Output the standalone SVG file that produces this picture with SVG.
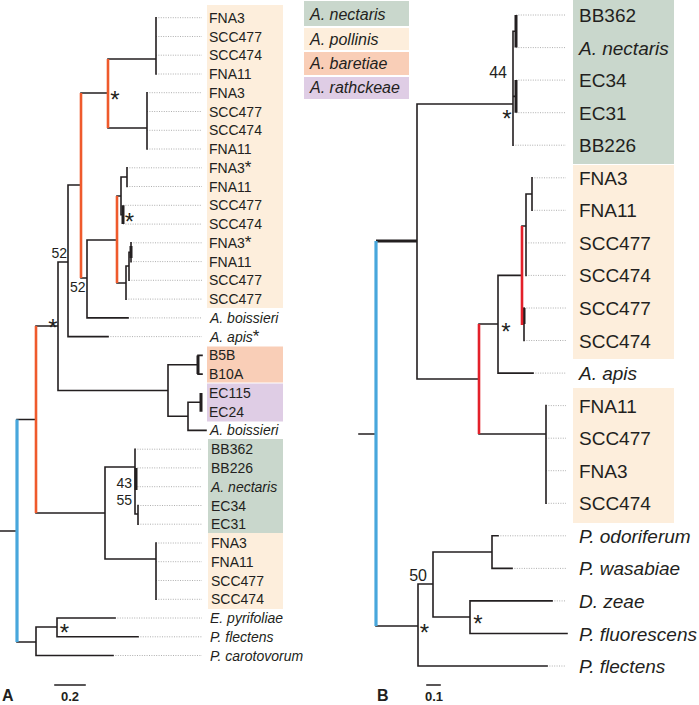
<svg xmlns="http://www.w3.org/2000/svg" width="699" height="705" viewBox="0 0 699 705">
<style>
text{font-family:"Liberation Sans",Arial,sans-serif;fill:#231f20}
.l{font-size:14px}
.r{font-size:19px}
.i{font-style:italic}
.lg{font-size:16px;font-style:italic}
.st{font-size:24px;text-anchor:middle}
.sa{font-size:17px;font-style:normal}
.bs{font-size:14px}
.bs2{font-size:16px}
.br{fill:none;stroke:#231f20;stroke-width:1.6;stroke-linecap:square}
.thk{fill:none;stroke:#231f20;stroke-width:3}
.or{fill:none;stroke:#ef5a2c;stroke-width:2.6}
.rd{fill:none;stroke:#e3202a;stroke-width:2.6}
.bl{fill:none;stroke:#48a7dc;stroke-width:3.2}
.dot{fill:none;stroke:#9a9a9a;stroke-width:0.8;stroke-dasharray:1 1.4}
.pol{fill:#fdeedc}
.nec{fill:#c9d7cc}
.bar{fill:#f9ceb7}
.rat{fill:#dfcde5}
</style>

<g id="legend">
<rect class="nec" x="304" y="1" width="105" height="25"/>
<rect class="pol" x="304" y="28" width="105" height="22"/>
<rect class="bar" x="304" y="52" width="105" height="23"/>
<rect class="rat" x="304" y="77" width="105" height="22"/>
<text class="lg" x="310" y="20">A. nectaris</text>
<text class="lg" x="310" y="45">A. pollinis</text>
<text class="lg" x="310" y="69">A. baretiae</text>
<text class="lg" x="310" y="93">A. rathckeae</text>
</g>

<g id="boxes-A">
<rect class="pol" x="207" y="5" width="76" height="303"/>
<rect class="bar" x="207" y="346.5" width="76" height="36"/>
<rect class="rat" x="207" y="383.5" width="76" height="38"/>
<rect class="nec" x="208" y="439" width="75" height="94"/>
<rect class="pol" x="208" y="533" width="75" height="76"/>
</g>

<g id="boxes-B">
<rect class="nec" x="573" y="0" width="101" height="164"/>
<rect class="pol" x="573" y="165" width="101" height="194"/>
<rect class="pol" x="573" y="388" width="101" height="135"/>
</g>

<g id="connectors">
<path class="dot" d="M156,17.7H202M156,36.5H202M156,55.2H202M156,74H202M147,92.7H202M147,111.5H202M147,130.3H202M147,149H202M127,167.8H202M127,186.5H202M123,205.3H202M123,224.1H202M131,242.8H202M131,261.6H202M129,280.3H202M126,299.1H202M128,317.9H202M108,336.6H202M135,449.2H202M135,467.9H202M135,486.7H202M138,505.5H202M138,524.2H202M156,543H202M156,561.7H202M156,580.5H202M156,599.3H202M115,618H202M138,636.8H202M113,655.5H202"/>
<path class="dot" d="M516,15H566M516,47.6H566M516,80.1H566M516,112.7H566M513,145.2H566M532,177.8H566M532,210.3H566M526,242.9H566M526,275.4H566M524,308H566M524,340.5H566M533,373.1H566M546,405.6H566M546,438.2H566M546,470.7H566M546,503.3H566M498,535.8H566M512,568.4H566M552,600.9H566M547,666H566"/>

<path class="br" d="M156,17.7V74M108,59H156M108,128H147M147,92.7V149M81,93H108M68,185H81M68,185V336.6M68,336.6H108M58,262H68M58,262V390.5M36,326H58M81,278H87M87,240V317.9M87,317.9H128M87,240H117M117,196H121M121,177V214.7M121,177H127M127,167.8V186.5M121,214.7H123M117,283H126M126,266V299.1M126,266H129M129,252.2V280.3M129,252.2H131M131,242.8V261.6M58,390.5H168M168,364.7V416.3M168,364.7H198M198,355.4H202M198,374.1H202M168,416.3H188M188,402.3V430.4M188,402.3H201M188,430.4H206M36,513H105M105,467V559M105,467H135M135,449.2V514M135,514H138M138,505.5V524.2M105,559H156M156,543V599.3M17,642H36M36,627V655.5M36,627H57M57,618V636.8M57,618H115M57,636.8H138M36,655.5H113M17,419.5H36M0,531H17"/>
<path class="thk" d="M123,205.3V224.1M131,246V258M198,355.4V374.1M201,392.9V411.7M136,467.9V490"/>
<path class="or" d="M108,59V128M81,93V278M117,196V283M36,326V513"/>
<path class="bl" d="M17,419.5V642"/>

<path class="br" d="M359,434H376M417,104V379M417,104H513M513,31.3V145.2M513,31.3H516M513,96.4H516M417,379H479M479,324H498M498,275.4V373.1M498,373.1H533M498,275.4H522M522,226H526M526,194V275.4M526,194H532M532,177.8V210.3M522,324.3H524M524,308V340.5M479,434H546M546,405.6V503.3M376,626H418M418,584V666M418,584H433M433,552V617M433,552H492M492,535.8V568.4M492,535.8H498M492,568.4H512M433,617H470M470,600.9V633.5M470,600.9H552M470,633.5H567M418,666H547"/>
<path class="thk" d="M376,241H417M516,15V47.6M516,80.1V112.7M524,308V324"/>
<path class="rd" d="M522,226V325M479,324V434"/>
<path class="bl" d="M376,241V626"/>

<path class="br" d="M55,685H85M427,685H440"/>
</g>

<g id="labels-A">
<text class="l" x="209" y="22.7">FNA3</text>
<text class="l" x="209" y="41.5">SCC477</text>
<text class="l" x="209" y="60.2">SCC474</text>
<text class="l" x="209" y="79">FNA11</text>
<text class="l" x="209" y="97.7">FNA3</text>
<text class="l" x="209" y="116.5">SCC477</text>
<text class="l" x="209" y="135.3">SCC474</text>
<text class="l" x="209" y="154">FNA11</text>
<text class="l" x="209" y="172.8">FNA3<tspan class="sa">*</tspan></text>
<text class="l" x="209" y="191.5">FNA11</text>
<text class="l" x="209" y="210.3">SCC477</text>
<text class="l" x="209" y="229.1">SCC474</text>
<text class="l" x="209" y="247.8">FNA3<tspan class="sa">*</tspan></text>
<text class="l" x="209" y="266.6">FNA11</text>
<text class="l" x="209" y="285.3">SCC477</text>
<text class="l" x="209" y="304.1">SCC477</text>
<text class="l i" x="210" y="322.9">A. boissieri</text>
<text class="l" x="210" y="341.6"><tspan font-style="italic">A. apis</tspan><tspan class="sa">*</tspan></text>
<text class="l" x="209" y="360.4">B5B</text>
<text class="l" x="209" y="379.1">B10A</text>
<text class="l" x="209" y="397.9">EC115</text>
<text class="l" x="209" y="416.7">EC24</text>
<text class="l i" x="210" y="435.4">A. boissieri</text>
<text class="l" x="211" y="454.2">BB362</text>
<text class="l" x="211" y="472.9">BB226</text>
<text class="l i" x="211" y="491.7">A. nectaris</text>
<text class="l" x="211" y="510.5">EC34</text>
<text class="l" x="211" y="529.2">EC31</text>
<text class="l" x="211" y="548">FNA3</text>
<text class="l" x="211" y="566.7">FNA11</text>
<text class="l" x="211" y="585.5">SCC477</text>
<text class="l" x="211" y="604.3">SCC474</text>
<text class="l i" x="210" y="623">E. pyrifoliae</text>
<text class="l i" x="210" y="641.8">P. flectens</text>
<text class="l i" x="210" y="660.5">P. carotovorum</text>
</g>

<g id="labels-B">
<text class="r" x="579" y="22">BB362</text>
<text class="r i" x="579" y="54.6">A. nectaris</text>
<text class="r" x="579" y="87.1">EC34</text>
<text class="r" x="579" y="119.7">EC31</text>
<text class="r" x="579" y="152.2">BB226</text>
<text class="r" x="579" y="184.8">FNA3</text>
<text class="r" x="579" y="217.3">FNA11</text>
<text class="r" x="579" y="249.9">SCC477</text>
<text class="r" x="579" y="282.4">SCC474</text>
<text class="r" x="579" y="315">SCC477</text>
<text class="r" x="579" y="347.5">SCC474</text>
<text class="r i" x="579" y="380.1">A. apis</text>
<text class="r" x="579" y="412.6">FNA11</text>
<text class="r" x="579" y="445.2">SCC477</text>
<text class="r" x="579" y="477.7">FNA3</text>
<text class="r" x="579" y="510.3">SCC474</text>
<text class="r i" x="579" y="542.8">P. odoriferum</text>
<text class="r i" x="579" y="575.4">P. wasabiae</text>
<text class="r i" x="579" y="607.9">D. zeae</text>
<text class="r i" x="579" y="640.5">P. fluorescens</text>
<text class="r i" x="579" y="673">P. flectens</text>
</g>

<g id="support">
<text class="st" x="115" y="107.7">*</text>
<text class="st" x="53" y="335.7">*</text>
<text class="st" x="129.5" y="229.7">*</text>
<text class="st" x="64.5" y="640.7">*</text>
<text class="st" x="507" y="126.7">*</text>
<text class="st" x="506" y="339.7">*</text>
<text class="st" x="478" y="631.7">*</text>
<text class="st" x="424.5" y="640.7">*</text>
<text class="bs" x="67" y="258" text-anchor="end">52</text>
<text class="bs" x="70" y="292">52</text>
<text class="bs" x="132" y="488" text-anchor="end">43</text>
<text class="bs" x="132" y="505" text-anchor="end">55</text>
<text class="bs2" x="507" y="78" text-anchor="end">44</text>
<text class="bs2" x="427" y="581" text-anchor="end">50</text>
</g>

<g id="panel-labels">
<text x="2" y="701" font-size="16px" font-weight="bold">A</text>
<text x="377" y="701" font-size="16px" font-weight="bold">B</text>
<text x="70" y="701" font-size="13px" font-weight="bold" text-anchor="middle">0.2</text>
<text x="434" y="701" font-size="13px" font-weight="bold" text-anchor="middle">0.1</text>
</g>
</svg>
